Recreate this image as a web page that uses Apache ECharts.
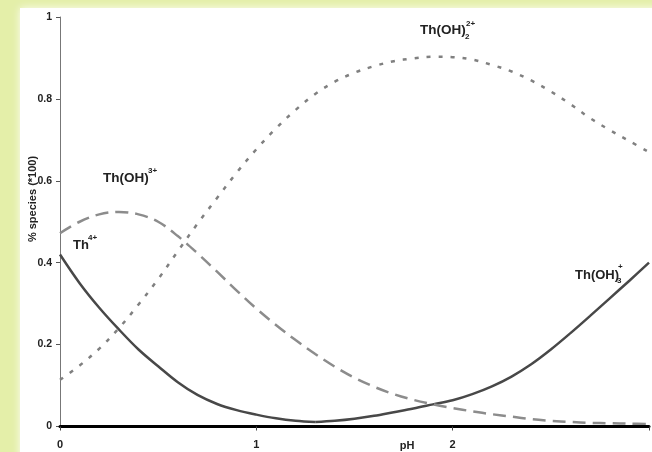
<!DOCTYPE html>
<html>
<head>
<meta charset="utf-8">
<script src="https://cdn.jsdelivr.net/npm/echarts@6/dist/echarts.min.js"></script>
<style>
  html, body { margin: 0; padding: 0; background: #e4efa9; }
  #chart { width: 652px; height: 452px; }
</style>
</head>
<body>
<div id="chart"></div>
<script>
// Thorium hydrolysis speciation vs pH (fraction of total Th)
const phTh4 = [0, 0.1, 0.2, 0.3, 0.4, 0.5, 0.6, 0.7, 0.8, 0.9, 1.0, 1.1, 1.2, 1.3];
const th4 = [0.42, 0.35, 0.29, 0.237, 0.188, 0.147, 0.108, 0.077, 0.055, 0.04, 0.029, 0.02, 0.014, 0.011];

const phFull = [0, 0.1, 0.2, 0.3, 0.4, 0.5, 0.6, 0.7, 0.8, 0.9, 1.0, 1.1, 1.2, 1.3, 1.4, 1.5,
                1.6, 1.7, 1.8, 1.9, 2.0, 2.1, 2.2, 2.3, 2.4, 2.5, 2.6, 2.7, 2.8, 2.9, 3.0];
const thOH = [0.472, 0.50, 0.518, 0.524, 0.518, 0.50, 0.465, 0.423, 0.378, 0.332, 0.288, 0.248,
              0.211, 0.177, 0.146, 0.119, 0.097, 0.079, 0.065, 0.054, 0.045, 0.037, 0.030,
              0.024, 0.018, 0.014, 0.011, 0.009, 0.008, 0.007, 0.006];
const thOH2 = [0.114, 0.149, 0.19, 0.24, 0.298, 0.36, 0.428, 0.495, 0.558, 0.62, 0.677, 0.728,
               0.773, 0.812, 0.842, 0.864, 0.88, 0.892, 0.899, 0.903, 0.902, 0.896, 0.883,
               0.867, 0.845, 0.818, 0.787, 0.753, 0.724, 0.697, 0.67];

const phTh3 = [1.3, 1.4, 1.5, 1.6, 1.7, 1.8, 1.9, 2.0, 2.1, 2.2, 2.3, 2.4, 2.5, 2.6, 2.7, 2.8, 2.9, 3.0];
const thOH3 = [0.011, 0.014, 0.019, 0.026, 0.035, 0.044, 0.054, 0.064, 0.079, 0.098, 0.122, 0.152,
               0.188, 0.228, 0.27, 0.313, 0.356, 0.40];

const yTicks = [0, 0.2, 0.4, 0.6, 0.8, 1];
const xTicks = [0, 1, 2];

const zip = (xs, ys) => xs.map((x, i) => [x, ys[i]]);

const FONT = '"Liberation Sans", Arial, sans-serif';
const INK = '#222';

function label(x, y, text, size) {
  return {
    type: 'text', x: x, y: y, z: 20,
    style: { text: text, fontFamily: FONT, fontWeight: 'bold', fontSize: size,
             fill: INK, textAlign: 'left', textVerticalAlign: 'middle' }
  };
}

const chart = echarts.init(document.getElementById('chart'), null, { renderer: 'canvas' });

chart.setOption({
  animation: false,
  backgroundColor: 'transparent',
  graphic: [
    {
      type: 'rect', z: -10, silent: true,
      shape: { x: 20, y: 8, width: 640, height: 452 },
      style: { fill: '#ffffff', shadowBlur: 8, shadowColor: 'rgba(255,255,255,0.9)' }
    },
    // species labels
    label(420, 30, 'Th(OH)', 13.5),
    label(465, 37, '2', 8),
    label(466, 24, '2+', 8),
    label(103, 178, 'Th(OH)', 13.5),
    label(148, 171, '3+', 8),
    label(73, 245, 'Th', 13),
    label(88, 238, '4+', 8),
    label(575, 275, 'Th(OH)', 13),
    label(617, 281, '3', 8),
    label(618, 267, '+', 8),
    // axis titles
    {
      type: 'text', x: 33, y: 199, rotation: Math.PI / 2, z: 20,
      style: { text: '% species (*100)', fontFamily: FONT, fontWeight: 'bold', fontSize: 11,
               fill: INK, textAlign: 'center', textVerticalAlign: 'middle' }
    },
    {
      type: 'text', x: 407, y: 446, z: 20,
      style: { text: 'pH', fontFamily: FONT, fontWeight: 'bold', fontSize: 11,
               fill: INK, textAlign: 'center', textVerticalAlign: 'middle' }
    }
  ],
  grid: { left: 60, top: 17, width: 594, height: 409.5, containLabel: false },
  xAxis: {
    type: 'value', min: 0, max: 3, interval: 1, z: 5,
    axisLine: { show: true, lineStyle: { color: '#000', width: 3 } },
    axisTick: { show: true, length: 4, lineStyle: { color: '#444', width: 1 } },
    splitLine: { show: false },
    axisLabel: {
      margin: 13, fontFamily: FONT, fontWeight: 'bold', fontSize: 11, color: INK,
      formatter: v => (xTicks.indexOf(v) >= 0 ? String(v) : '')
    }
  },
  yAxis: {
    type: 'value', min: 0, max: 1, interval: 0.2,
    axisLine: { show: true, lineStyle: { color: '#777', width: 1 } },
    axisTick: { show: true, length: 4, lineStyle: { color: '#555', width: 1 } },
    splitLine: { show: false },
    axisLabel: {
      margin: 8, fontFamily: FONT, fontWeight: 'bold', fontSize: 10.5, color: INK,
      formatter: v => {
        const t = yTicks.find(k => Math.abs(k - v) < 1e-9);
        return t === undefined ? '' : String(t);
      }
    }
  },
  series: [
    {
      name: 'Th4+', type: 'line', smooth: 0.35, showSymbol: false,
      data: zip(phTh4, th4),
      lineStyle: { color: '#484848', width: 2.5 }
    },
    {
      name: 'Th(OH)3+ (solid)', type: 'line', smooth: 0.35, showSymbol: false,
      data: zip(phTh3, thOH3),
      lineStyle: { color: '#484848', width: 2.5 }
    },
    {
      name: 'Th(OH)3+', type: 'line', smooth: 0.35, showSymbol: false,
      data: zip(phFull, thOH),
      lineStyle: { color: '#8c8c8c', width: 2.5, type: [13, 7] }
    },
    {
      name: 'Th(OH)2 2+', type: 'line', smooth: 0.35, showSymbol: false,
      data: zip(phFull, thOH2),
      lineStyle: { color: '#808080', width: 2.5, type: [4, 8] }
    }
  ]
});
</script>
</body>
</html>
